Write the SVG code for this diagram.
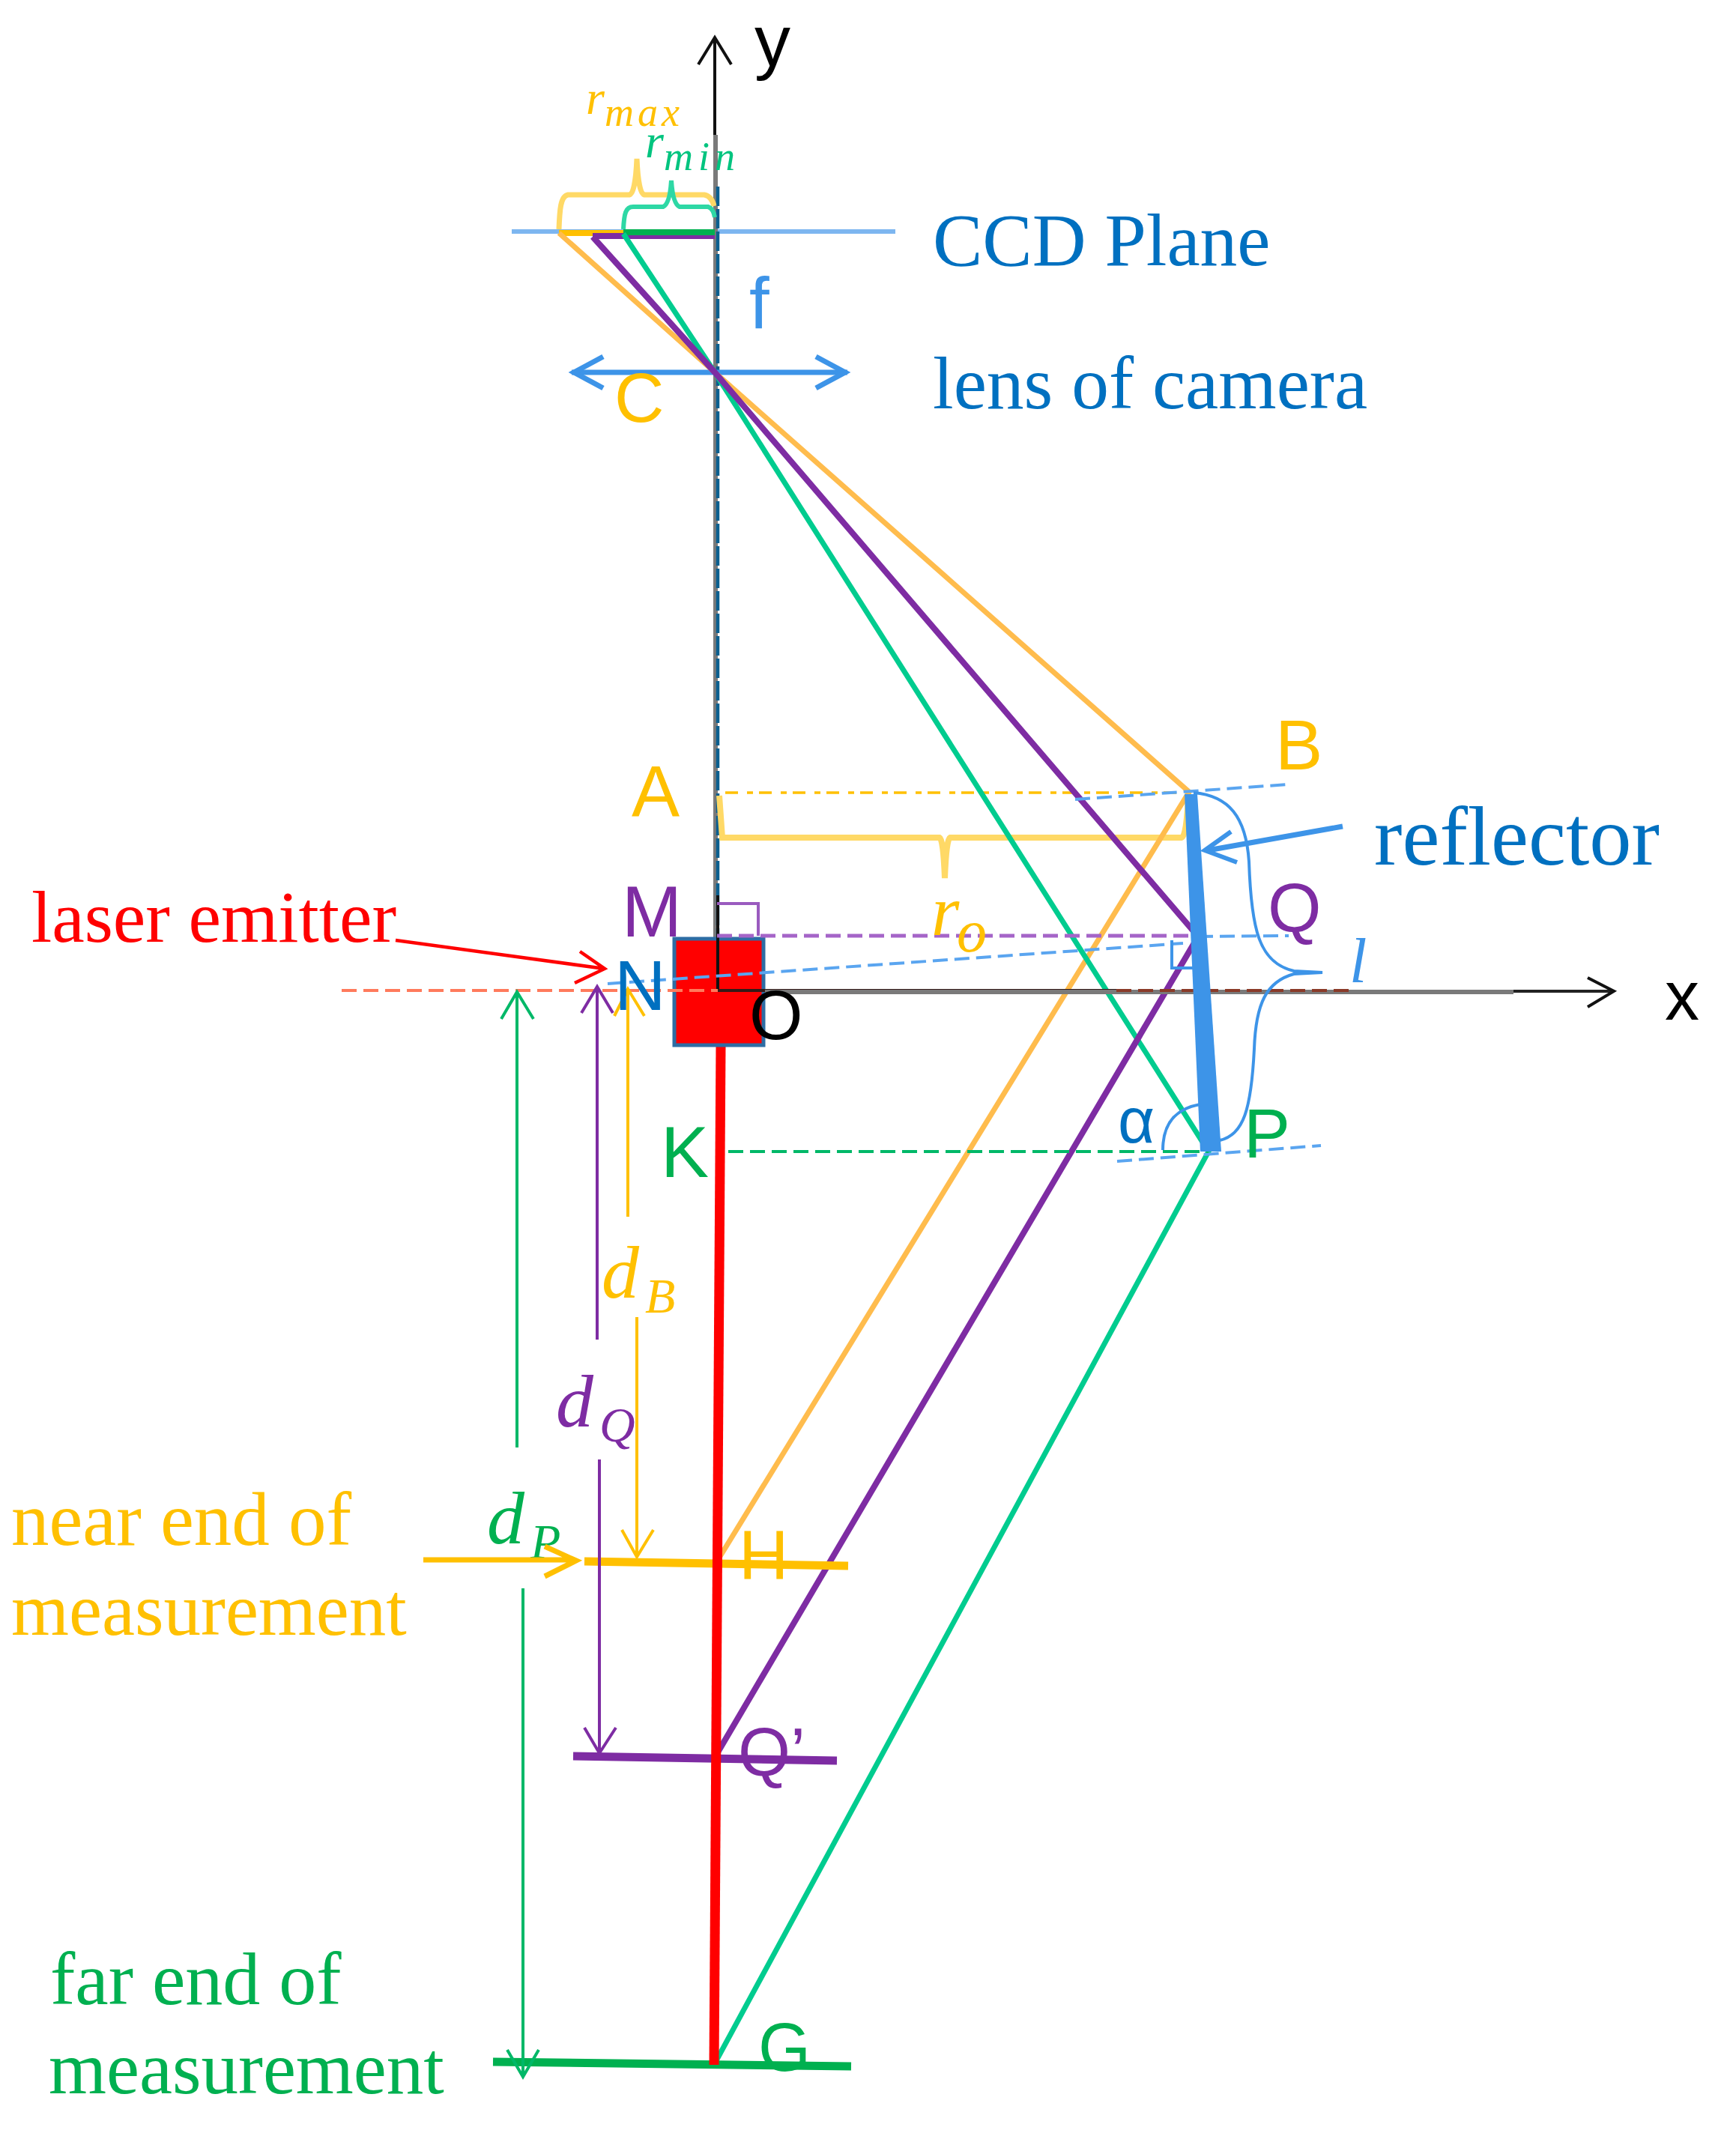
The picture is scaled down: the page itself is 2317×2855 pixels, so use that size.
<svg xmlns="http://www.w3.org/2000/svg" width="2317" height="2855" viewBox="0 0 2317 2855">
<style>
.serif{font-family:"Liberation Serif",serif}
.sans{font-family:"Liberation Sans",sans-serif}
.it{font-family:"Liberation Serif",serif;font-style:italic}
.l{fill:none;stroke-linecap:butt;stroke-linejoin:miter}
.d{stroke-dasharray:20 9}
.yel{fill:#FFC000}.grn{fill:#00B050}.pur{fill:#7E2CA3}.dbl{fill:#0070C0}.lbl{fill:#3D94E8}.red{fill:#FF0000}.blk{fill:#000}
</style>
<rect width="2317" height="2855" fill="#fff"/>
<g id="connectors" class="l">
<path d="M683 309H1195" stroke="#7DB6F0" stroke-width="6"/>
<path d="M955 180V1321" stroke="#7A7A7A" stroke-width="6"/>
<path d="M958 249V1321" stroke="#0B5F8F" stroke-width="4.5" stroke-dasharray="26 4"/>
<path d="M954 50V180" stroke="#111" stroke-width="4"/>
<path d="M932 86L954 50L976 86" stroke="#111" stroke-width="4"/>
<path d="M746 311H954" stroke="#FFC000" stroke-width="8"/>
<path d="M791 315H954" stroke="#7E2CA3" stroke-width="8"/>
<path d="M832 310H954" stroke="#00B050" stroke-width="8"/>
<path d="M746 306C747 280 748 262 758 260H840Q848 258 850 212Q852 258 860 260H940Q950 262 953 275" stroke="#FFD966" stroke-width="7"/>
<path d="M832 306C833 285 835 276 845 276H885Q894 272 896 241Q898 272 907 276H945Q952 278 954 290" stroke="#2ED8A5" stroke-width="6"/>
<path d="M968 1058H1587" stroke="#FFC000" stroke-width="3.5" stroke-dasharray="17 12 8 8"/>
<path d="M960 1062L964 1118H1254Q1259 1120 1261 1172Q1263 1120 1268 1118H1577Q1584 1116 1586 1058" stroke="#FFD966" stroke-width="8"/>
<path d="M763 497H1131" stroke="#3D94E8" stroke-width="7"/>
<path d="M805 476L766 497L805 518M1089 476L1128 497L1089 518" stroke="#3D94E8" stroke-width="7"/>
<path d="M746 311L954 497L1587 1057L957 2084" stroke="#FFBC4D" stroke-width="7"/>
<path d="M832 312L954 497L1613 1537L953 2756" stroke="#00CC8F" stroke-width="7"/>
<path d="M791 316L954 497L1599 1250L955 2344" stroke="#7E2CA3" stroke-width="8"/>
<path d="M780 2084L1132 2090" stroke="#FFC000" stroke-width="11"/>
<path d="M765 2344L1117 2350" stroke="#7E2CA3" stroke-width="11"/>
<path d="M658 2752L1136 2758" stroke="#00B050" stroke-width="11"/>
</g>
<g id="laser">
<path d="M962 1397L953 2756" stroke="#FF0000" stroke-width="13" fill="none"/>
<rect x="900" y="1253" width="119" height="142" fill="#FF0000" stroke="#2E6DA4" stroke-width="5"/>
</g>
<g id="overlay" class="l">
<path d="M958 1195V1322" stroke="#111" stroke-width="4"/>
<path d="M958 1322H1490" stroke="#331A18" stroke-width="4"/>
<path d="M1021 1324H2020" stroke="#7A7A7A" stroke-width="6"/>
<path d="M1490 1322H1803" stroke="#8A3A28" stroke-width="4" stroke-dasharray="20 9"/>
<path d="M2020 1323H2154" stroke="#222" stroke-width="4"/>
<path d="M2119 1305L2154 1323L2119 1344" stroke="#111" stroke-width="4"/>
<path d="M957 1206H1012V1249" stroke="#9A5BBF" stroke-width="4"/>
<path class="d" d="M957 1249H1599" stroke="#A565C8" stroke-width="5"/>
<path class="d" d="M1435 1067L1719 1047M811 1313L1579 1259M1599 1250L1720 1249M1491 1550L1763 1529" stroke="#5AA5F0" stroke-width="4"/>
<path class="d" d="M972 1537H1613" stroke="#00B868" stroke-width="4"/>
<path class="d" d="M456 1322H958" stroke="#FF7A5C" stroke-width="4"/>
<path d="M528 1255L807 1293M774 1270L807 1293L767 1312" stroke="#FF0000" stroke-width="4.5"/>
<polygon points="1581,1060 1598,1060 1630,1537 1602,1537" fill="#3D94E8" stroke="none"/>
<path d="M1564 1255V1292H1593" stroke="#3D94E8" stroke-width="4"/>
<path d="M1593 1058C1640 1062 1663 1090 1667 1150C1670 1240 1680 1285 1727 1296L1765 1298L1727 1300C1690 1310 1676 1340 1674 1400C1670 1480 1660 1515 1628 1522" stroke="#3D94E8" stroke-width="4"/>
<path d="M1552 1535C1552 1500 1568 1480 1602 1474" stroke="#3D94E8" stroke-width="4"/>
<path d="M1792 1103L1612 1135" stroke="#3D94E8" stroke-width="7"/>
<path d="M1643 1110L1608 1135L1651 1151" stroke="#3D94E8" stroke-width="6"/>
<path d="M690 1932V1324M669 1360L690 1324L712 1360M698 2120V2772M677 2736L698 2772L719 2736" stroke="#00B868" stroke-width="4"/>
<path d="M797 1788V1317M776 1352L797 1317L818 1352M800 1948V2340M780 2306L800 2340L822 2306" stroke="#7E2CA3" stroke-width="4"/>
<path d="M838 1624V1320M820 1356L838 1320L860 1356M850 1758V2078M830 2042L850 2078L872 2042" stroke="#FFC000" stroke-width="4"/>
</g>
<g id="labels">
<text class="sans blk" x="1007" y="88" font-size="96">y</text>
<text class="sans blk" x="2222" y="1361" font-size="92">x</text>
<text class="it yel" x="782" y="152" font-size="64">r<tspan font-size="54" dy="16" letter-spacing="5">max</tspan></text>
<text class="it" x="861" y="210" font-size="64" fill="#00C47F">r<tspan font-size="54" dy="17" letter-spacing="7">min</tspan></text>
<text class="serif dbl" x="1245" y="354" font-size="99.5">CCD Plane</text>
<text class="serif dbl" x="1245" y="545" font-size="99.5">lens of camera</text>
<text class="sans lbl" x="1000" y="438" font-size="96">f</text>
<text class="sans yel" x="820" y="563" font-size="92">C</text>
<text class="sans yel" x="1702" y="1027" font-size="95">B</text>
<text class="sans yel" x="843" y="1089" font-size="96">A</text>
<text class="serif dbl" x="1834" y="1154" font-size="112.5">reflector</text>
<text class="sans pur" x="830" y="1250" font-size="96">M</text>
<text class="sans dbl" x="820" y="1348" font-size="95">N</text>
<text class="sans blk" x="1000" y="1387" font-size="92">O</text>
<text class="sans pur" x="1692" y="1243" font-size="92">Q</text>
<text class="sans dbl" x="1492" y="1525" font-size="85">α</text>
<text class="sans grn" x="1660" y="1545" font-size="93">P</text>
<text class="sans grn" x="882" y="1571" font-size="96">K</text>
<text class="it lbl" x="1801" y="1311" font-size="84">l</text>
<text class="it yel" x="1243" y="1248" font-size="96">r<tspan x="1277" y="1270" font-size="80">o</tspan></text>
<text class="serif red" x="42" y="1257" font-size="98">laser emitter</text>
<text class="it yel" x="803" y="1732" font-size="100">d<tspan x="861" y="1752" font-size="66">B</tspan></text>
<text class="it pur" x="742" y="1904" font-size="100">d<tspan x="800" y="1924" font-size="66">Q</tspan></text>
<text class="it grn" x="650" y="2060" font-size="100">d<tspan x="708" y="2080" font-size="66">P</tspan></text>
<text class="serif yel" x="15" y="2062" font-size="101">near end of</text>
<text class="serif yel" x="15" y="2182" font-size="99">measurement</text>
<text class="serif grn" x="67" y="2675" font-size="100">far end of</text>
<text class="serif grn" x="65" y="2794" font-size="99">measurement</text>
<text class="sans yel" x="986" y="2108" font-size="92">H</text>
<text class="sans pur" x="985" y="2370" font-size="90">Q’</text>
<text class="sans grn" x="1012" y="2764" font-size="90">G</text>
</g>
<path id="near-arrow" d="M565 2082H767M727 2064L769 2083L727 2104" fill="none" stroke="#FFC000" stroke-width="7"/>
</svg>
